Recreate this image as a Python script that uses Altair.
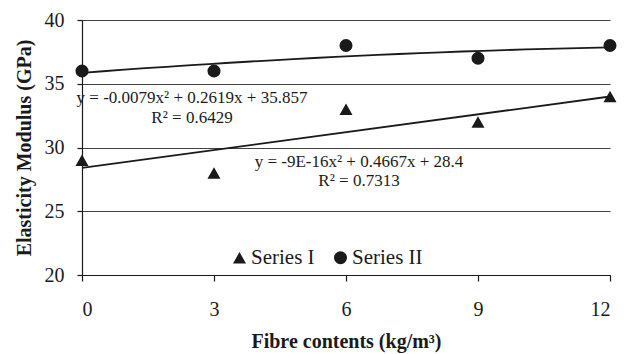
import altair as alt
import pandas as pd

fibre = [0, 3, 6, 9, 12]
series_1 = [29, 28, 33, 32, 34]
series_2 = [36, 36, 38, 37, 38]
series_names = ["Series I", "Series II"]
x_ticks = [0, 3, 6, 9, 12]
y_ticks = [20, 25, 30, 35, 40]

eq1 = ["y = -9E-16x² + 0.4667x + 28.4", "R² = 0.7313"]
eq2 = ["y = -0.0079x² + 0.2619x + 35.857", "R² = 0.6429"]

rows = []
for name, vals in zip(series_names, [series_1, series_2]):
    for xv, yv in zip(fibre, vals):
        rows.append({"x": xv, "y": yv, "series": name})
df = pd.DataFrame(rows)

FONT = "Times New Roman, Liberation Serif, serif"
INK = "#1a1a1a"

xscale = alt.Scale(domain=[0, 12], nice=False, zero=False)
yscale = alt.Scale(domain=[20, 40], nice=False, zero=False)

xenc = alt.X("x:Q", scale=xscale,
             axis=alt.Axis(values=x_ticks, title="Fibre contents (kg/m³)", grid=False,
                           tickSize=6, labelPadding=18, titlePadding=12,
                           labelFont=FONT, labelFontSize=20,
                           labelColor=INK, titleFont=FONT, titleFontSize=20,
                           titleFontWeight="bold", titleColor=INK,
                           domainColor=INK, tickColor=INK, domainWidth=1.2,
                           tickWidth=1.2))
yenc = alt.Y("y:Q", scale=yscale,
             axis=alt.Axis(values=y_ticks, title="Elasticity Modulus (GPa)", grid=True,
                           tickSize=5, labelPadding=13, titlePadding=10,
                           labelFont=FONT, labelFontSize=20, labelColor=INK,
                           titleFont=FONT, titleFontSize=20, titleFontWeight="bold",
                           titleColor=INK, domainColor=INK, tickColor=INK,
                           gridColor="#444444", gridWidth=1, domainWidth=1.2,
                           tickWidth=1.2))

base = alt.Chart(df)

points = base.mark_point(filled=True, opacity=1, color=INK, size=170).encode(
    x=xenc, y=yenc,
    shape=alt.Shape("series:N",
                    scale=alt.Scale(domain=series_names, range=["triangle-up", "circle"]),
                    legend=alt.Legend(title=None, orient="none", direction="horizontal",
                                      legendX=147, legendY=227, labelFontSize=21,
                                      labelFont=FONT, labelColor=INK, symbolSize=170,
                                      symbolFillColor=INK, symbolStrokeColor=INK,
                                      columnPadding=15, labelOffset=1)),
)

line1 = alt.Chart(df[df.series == "Series I"]).transform_regression(
    "x", "y", method="linear", extent=[0, 12]
).mark_line(color=INK, strokeWidth=1.8).encode(x=xenc, y=yenc)

line2 = alt.Chart(df[df.series == "Series II"]).transform_regression(
    "x", "y", method="poly", order=2, extent=[0, 12]
).mark_line(color=INK, strokeWidth=1.8).encode(x=xenc, y=yenc)

def label(txt, px, py):
    return alt.Chart(pd.DataFrame({"t": [txt]})).mark_text(
        font=FONT, fontSize=17, color=INK, align="center", baseline="middle"
    ).encode(text="t:N", x=alt.value(px), y=alt.value(py))

texts = (label(eq2[0], 110, 78) + label(eq2[1], 110, 98)
         + label(eq1[0], 277, 142) + label(eq1[1], 277, 161))

chart = alt.layer(line1, line2, points, texts).properties(
    width=528, height=255,
    padding={"left": 82, "top": 20, "right": 18, "bottom": 79},
    autosize="none",
).configure_view(stroke=None)

chart.save("out.html", embed_options={"renderer": "svg", "actions": False})
